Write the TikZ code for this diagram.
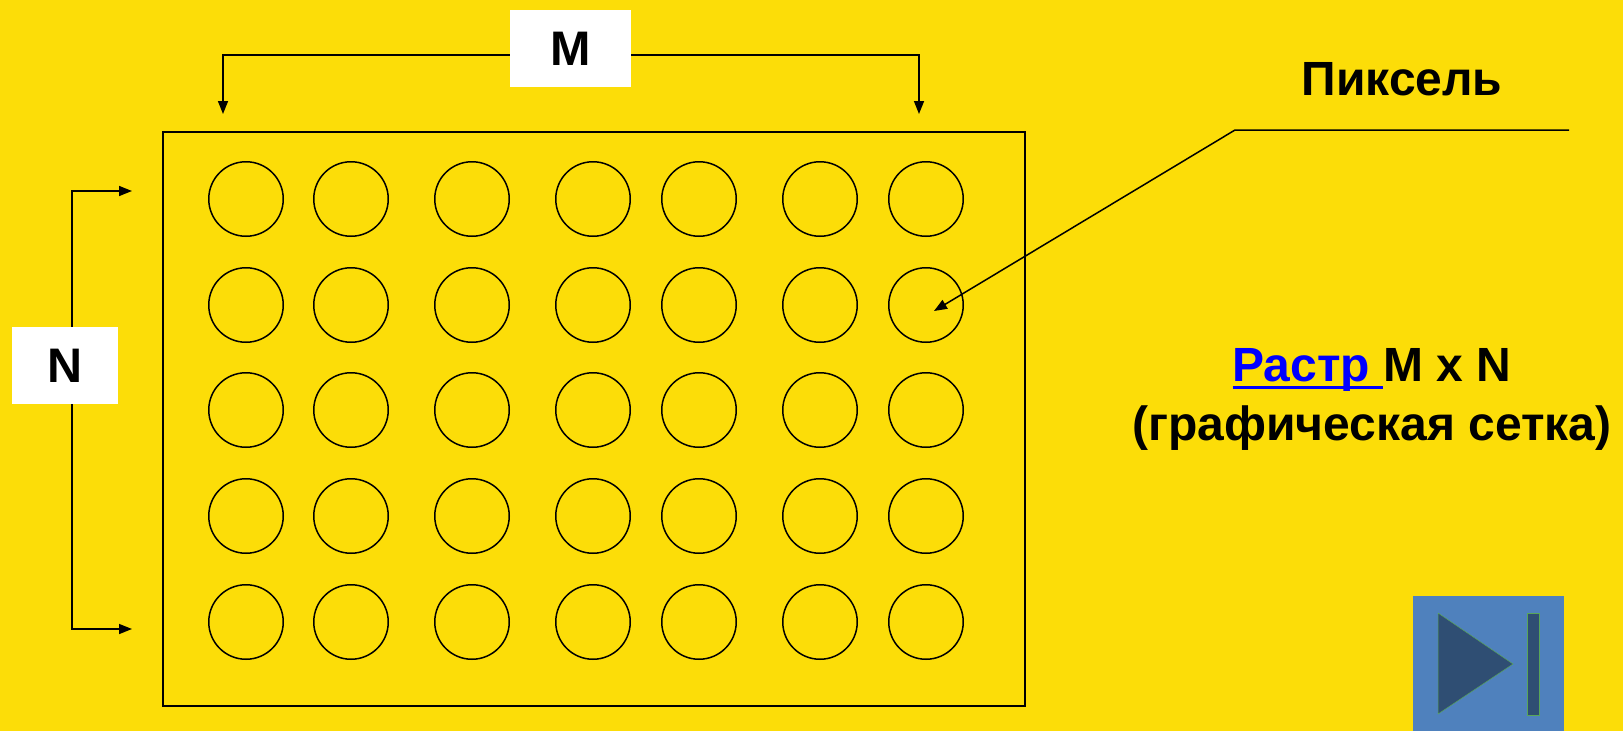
\documentclass[tikz,border=0pt]{standalone}
\usepackage{fontspec}
\setmainfont{Liberation Sans}
\usetikzlibrary{arrows.meta}
\definecolor{bgyellow}{RGB}{252,221,8}
\definecolor{btnblue}{RGB}{79,129,189}
\definecolor{btndark}{RGB}{47,78,115}
\definecolor{linkblue}{RGB}{0,0,255}
\newcommand\linkline[1]{\setbox0\hbox{#1}\rlap{\rule[-8pt]{\wd0}{3.5pt}}\box0}
\tikzstyle{pixel} = [circle, draw=black, line width=1.5pt, minimum size=74.5pt, inner sep=0pt]
\tikzstyle{dimlabel} = [rectangle, fill=white, minimum width=121pt, minimum height=77pt, inner sep=0pt, font=\bfseries\fontsize{48.5}{59}\selectfont]
\tikzstyle{bigtext} = [align=center, inner sep=0pt, anchor=base, font=\bfseries\fontsize{48}{59}\selectfont]
\tikzstyle{arrow} = [line width=1.5pt,-{Triangle[length=13pt,width=10pt]}]

\begin{document}
\begin{tikzpicture}[x=1pt,y=-1pt]
        \fill[bgyellow] (0,0) rectangle (1623,731);
        \useasboundingbox (0,0) rectangle (1623,731);

        \node (grid) [draw=black, line width=1.5pt, minimum width=862pt, minimum height=574pt, inner sep=0pt, anchor=north west] at (162,131) {};
        \foreach \r/\y in {1/199,2/305,3/410,4/516,5/622}
            \foreach \c/\x in {1/246,2/351,3/472,4/593,5/699,6/820,7/926}
                \node (c\r\c) [pixel] at (\x,\y) {};

        \coordinate (Mbar) at (570,55);
        \coordinate (Mleft) at (223,114);
        \coordinate (Mright) at (919,114);
        \draw[arrow] (Mbar) -| (Mleft);
        \draw[arrow] (Mbar) -| (Mright);
        \node (M) [dimlabel] at (570.5,48.5) {M};

        \coordinate (Nbar) at (72,365);
        \coordinate (Ntop) at (132,191);
        \coordinate (Nbottom) at (132,629);
        \draw[arrow] (Nbar) |- (Ntop);
        \draw[arrow] (Nbar) |- (Nbottom);
        \node (N) [dimlabel, minimum width=106pt] at (65,365.5) {N};

        \node (Pixel) [bigtext] at (1402,95) {Пиксель};
        \coordinate (lineEnd) at (1569,130);
        \coordinate (knee) at (1235,130);
        \coordinate (tip) at (934,311);
        \draw[arrow] (lineEnd) -- (knee) -- (tip);

        \node (Raster) [bigtext] at (1372,440) {\textcolor{linkblue}{\linkline{Растр }}M x N\\(графическая сетка)};

        \node (button) [fill=btnblue, minimum width=151pt, minimum height=135pt, inner sep=0pt, anchor=north west] at (1413,596) {};
        \fill[btndark, draw=gray!70!green, line width=0.5pt] (1438,613) -- (1513,664) -- (1438,714) -- cycle;
        \fill[btndark, draw=gray!70!green, line width=0.5pt] (1527,613) rectangle (1539,715);
    \end{tikzpicture}
\end{document}
